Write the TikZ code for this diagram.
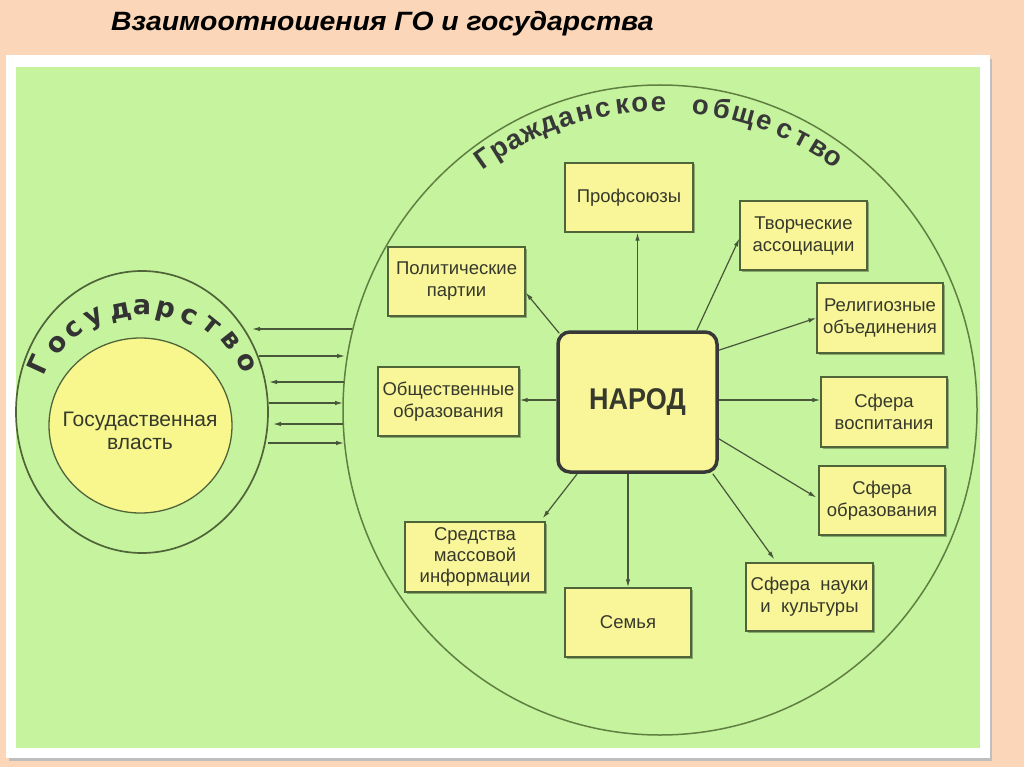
\documentclass[tikz,border=0pt]{standalone}
\usepackage{fontspec}
\setmainfont{Liberation Sans}
\newfontfamily\arcfont{DejaVu Sans}
\usetikzlibrary{arrows.meta,shapes.geometric,shadows}
\definecolor{peach}{RGB}{251,214,184}
\definecolor{lgreen}{RGB}{198,243,157}
\definecolor{byellow}{RGB}{248,246,152}
\definecolor{cyellow}{RGB}{247,247,142}
\definecolor{lineg}{RGB}{80,100,58}
\definecolor{ellg}{RGB}{96,128,66}
\definecolor{txt}{RGB}{55,57,44}
\definecolor{arrc}{RGB}{72,86,58}
\newcommand{\arcch}[2]{\raisebox{#1}[0pt][0pt]{\makebox[0pt]{#2}}}
\tikzset{
 boxst/.style={draw=lineg, line width=1.3pt, fill=byellow, align=center, text=txt,
   font=\fontsize{18.5}{22}\selectfont, inner sep=0pt,
   drop shadow={shadow xshift=1.5pt,shadow yshift=-1.5pt,opacity=0.3,fill=black}},
 arr/.style={draw=arrc, line width=1.2pt, -{Latex[length=8pt,width=4.5pt]}},
 gosletter/.style={font=\arcfont\bfseries\fontsize{27}{27}\selectfont, text=black!80, inner sep=0pt},
 goletter/.style={font=\bfseries\fontsize{27.5}{27}\selectfont, text=black!78, inner sep=0pt}
}
\begin{document}
\begin{tikzpicture}[x=1pt,y=-1pt]
\useasboundingbox (0,0) rectangle (1024,767);
\fill[peach] (0,0) rectangle (1024,767);
\fill[black!25] (9,59) rectangle (992,761);
\fill[white] (6,55) rectangle (990,758);
\fill[lgreen] (16,67) rectangle (980,748);

\node[anchor=base west, inner sep=0pt, font=\bfseries\itshape\fontsize{26.5}{30}\selectfont] (title) at (111,30.5) {\scalebox{1.07}[1]{Взаимоотношения ГО и государства}};

% civil society ellipse
\node[draw=ellg, line width=1.5pt, ellipse, minimum width=634pt, minimum height=650pt, inner sep=0pt] (go) at (660,410) {};
% state circles
\node[draw=lineg, line width=1.7pt, ellipse, minimum width=252pt, minimum height=282pt, inner sep=0pt] (gos) at (142,412) {};
\node[draw=lineg, line width=1.3pt, fill=cyellow, ellipse, minimum width=183pt, minimum height=175pt, inner sep=0pt] (vlast) at (140.5,425.5) {};
\node[align=center, text=txt, font=\fontsize{21}{23}\selectfont] (vlasttext) at (140,431) {Госудаственная\\власть};

% curved label Государство
\foreach \ch/\px/\py/\ang [count=\i] in {Г/43/367/155.3, о/60/347/141.3, с/76/332/129.9, у/96/320/117, д/121/314/101.5, а/142/311/89.4, р/165/313/76.1, с/187/320/63.4, т/209/328/51.3, в/228/343/38.4, о/243/364/25.2}
  \node[gosletter, rotate=\ang-90] (gl-\i) at (\px,\py) {\arcch{-4pt}{\ch}};

% curved label Гражданское общество
\foreach \ch/\ang [count=\i] in {Г/125.1, р/121.6, а/118.4, ж/114.9, д/111.2, а/107.8, н/104.3, с/100.8, к/97.1, о/93.8, е/90.3, о/82.4, б/78.4, щ/74.2, е/70, с/66, т/62.3, в/58.8, о/55.6}{
  \node[goletter, rotate=\ang-90] (cl-\i) at ({660+302*cos(\ang)},{410-302*sin(\ang)}) {\arcch{-3.6pt}{\ch}};
}

% boxes
\node[boxst, minimum width=128pt, minimum height=69pt] (prof) at (629,197.5) {Профсоюзы};
\node[boxst, minimum width=127pt, minimum height=69pt] (tvor) at (803.5,235.5) {Творческие\\ассоциации};
\node[boxst, minimum width=126pt, minimum height=70pt] (relig) at (880,318) {Религиозные\\объединения};
\node[boxst, minimum width=126pt, minimum height=70pt] (vosp) at (884,412) {Сфера\\воспитания};
\node[boxst, minimum width=126pt, minimum height=69pt] (obraz) at (882,500.5) {Сфера\\образования};
\node[boxst, minimum width=127pt, minimum height=68pt] (nauka) at (809.5,597) {Сфера~~науки\\и~~культуры};
\node[boxst, minimum width=126pt, minimum height=69pt] (semya) at (628,622.5) {Семья};
\node[boxst, minimum width=140pt, minimum height=70pt, font=\fontsize{18.5}{21}\selectfont] (smi) at (475,557) {Средства\\массовой\\информации};
\node[boxst, minimum width=141pt, minimum height=69pt] (obsh) at (448.5,401.5) {Общественные\\образования};
\node[boxst, minimum width=137pt, minimum height=69pt] (polit) at (456.5,281.5) {Политические\\партии};

\node[draw=black!78, line width=3.5pt, rounded corners=12pt, fill=byellow, minimum width=159pt, minimum height=140pt, font=\bfseries\fontsize{30}{30}\selectfont, text=txt] (narod) at (637.5,402) {\scalebox{0.9}[1]{НАРОД}};

% arrows from НАРОД
\draw[arr] (narod.north) -- (narod.north |- prof.south);
\draw[arr] ([shift={(-22,0)}]narod.north east) -- ([shift={(0,3)}]tvor.west);
\draw[arr] ([shift={(3,3)}]narod.north west) -- ([shift={(0,11)}]polit.east);
\draw[arr] ([shift={(0,20)}]narod.north east) -- (relig.west);
\draw[arr] ([shift={(0,-2)}]narod.east) -- ([shift={(0,-2)}]narod.east -| vosp.west);
\draw[arr] ([shift={(0,-35)}]narod.south east) -- ([shift={(-2,-3)}]obraz.west);
\draw[arr] ([shift={(-6,0)}]narod.south east) -- ([shift={(29,-3)}]nauka.north west);
\draw[arr] (semya.north |- narod.south) -- (semya.north);
\draw[arr] ([shift={(21,0)}]narod.south west) -- ([shift={(-3,-3)}]smi.north east);
\draw[arr] ([shift={(0,-2)}]narod.west) -- ([shift={(0,-2)}]narod.west -| obsh.east);

% arrows between state and civil society
\coordinate (g1) at (252,329); \coordinate (c1) at (352,329);
\coordinate (g2) at (259,356); \coordinate (c2) at (345,356);
\coordinate (g3) at (269,382); \coordinate (c3) at (344,382);
\coordinate (g4) at (269,403); \coordinate (c4) at (343,403);
\coordinate (g5) at (273,424); \coordinate (c5) at (343,424);
\coordinate (g6) at (268,443); \coordinate (c6) at (344,443);
\draw[arr] (c1) -- (g1);
\draw[arr] (g2) -- (c2);
\draw[arr] (c3) -- (g3);
\draw[arr] (g4) -- (c4);
\draw[arr] (c5) -- (g5);
\draw[arr] (g6) -- (c6);
\end{tikzpicture}
\end{document}
